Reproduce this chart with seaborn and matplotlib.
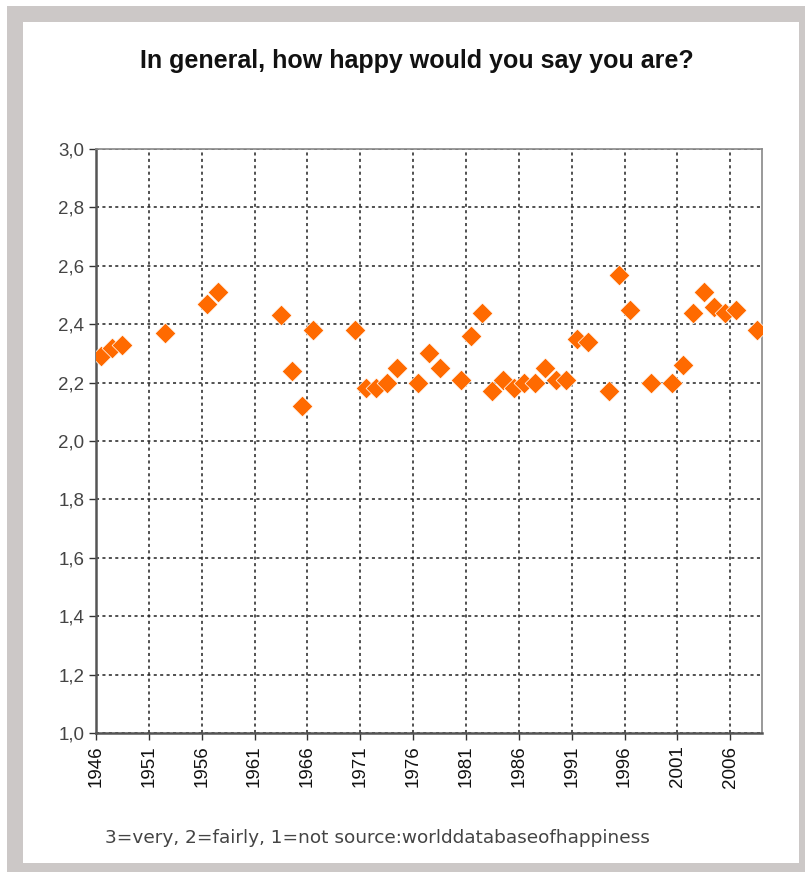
import matplotlib
matplotlib.use("Agg")
import matplotlib.pyplot as plt
from matplotlib.patches import Rectangle
from matplotlib.ticker import FuncFormatter
import seaborn as sns
import pandas as pd

# survey years and mean happiness (3=very, 2=fairly, 1=not)
years = [1946, 1947, 1948, 1952, 1956, 1957, 1963, 1964, 1965, 1966,
         1970, 1971, 1972, 1973, 1974, 1976, 1977, 1978, 1980, 1981,
         1982, 1983, 1984, 1985, 1986, 1987, 1988, 1989, 1990, 1991,
         1992, 1994, 1995, 1996, 1998, 2000, 2001, 2002, 2003, 2004,
         2005, 2006, 2008]
happiness = [2.29, 2.32, 2.33, 2.37, 2.47, 2.51, 2.43, 2.24, 2.12, 2.38,
             2.38, 2.18, 2.18, 2.20, 2.25, 2.20, 2.30, 2.25, 2.21, 2.36,
             2.44, 2.17, 2.21, 2.18, 2.20, 2.20, 2.25, 2.21, 2.21, 2.35,
             2.34, 2.17, 2.57, 2.45, 2.20, 2.20, 2.26, 2.44, 2.51, 2.46,
             2.44, 2.45, 2.38]
tick_years = [1946, 1951, 1956, 1961, 1966, 1971, 1976, 1981, 1986, 1991, 1996, 2001, 2006]
y_ticks = [1.0, 1.2, 1.4, 1.6, 1.8, 2.0, 2.2, 2.4, 2.6, 2.8, 3.0]

df = pd.DataFrame({"year": years, "happiness": happiness})

sns.set_style("white")
plt.rcParams['font.family'] = ['Liberation Sans', 'DejaVu Sans']

W, H = 805, 872
fig = plt.figure(figsize=(W / 100, H / 100), dpi=100)

# grey frame with white panel, like the original screenshot
fig.patches.append(Rectangle((7 / W, 0), 1, 1 - 6 / H, transform=fig.transFigure,
                             facecolor='#ccc8c7', edgecolor='none', zorder=-10))
fig.patches.append(Rectangle((23 / W, 9 / H), (799 - 23) / W, (863 - 22) / H,
                             transform=fig.transFigure, facecolor='white',
                             edgecolor='none', zorder=-9))

ax = fig.add_axes([96 / W, (H - 733) / H, (762 - 96) / W, (733 - 149) / H])
ax.set_facecolor('white')

sns.scatterplot(data=df, x='year', y='happiness', ax=ax, marker='D', s=112,
                color='#ff6a00', edgecolor='white', linewidth=0.5, zorder=3)

# category-style axis: boundaries sit half a year left of each label
ax.set_xlim(years[0] - 0.5, years[-1] + 0.5)
ax.set_xticks([t - 0.5 for t in tick_years])
ax.set_xticklabels([str(t) for t in tick_years], rotation=90, fontsize=13.5, color='#111')
ax.set_ylim(1.0, 3.0)
ax.set_yticks(y_ticks)
ax.yaxis.set_major_formatter(FuncFormatter(lambda v, p: f'{v:.1f}'.replace('.', ',')))
ax.tick_params(axis='y', labelsize=13.5, labelcolor='#444', length=5, width=1, color='#333', direction='out', left=True)
ax.tick_params(axis='x', length=5, width=1, color='#333', direction='out', bottom=True, pad=4)

ax.grid(True, color='#222', linestyle=(0, (2, 2.2)), linewidth=1.1)
ax.set_axisbelow(True)
ax.set_xlabel('')
ax.set_ylabel('')

for side in ['left', 'bottom']:
    ax.spines[side].set_color('#555')
    ax.spines[side].set_linewidth(1.8)
for side in ['top', 'right']:
    ax.spines[side].set_color('#888')
    ax.spines[side].set_linewidth(1.2)

fig.text(417 / W, 1 - 68 / H, 'In general, how happy would you say you are?',
         ha='center', va='baseline', fontsize=18, fontweight='bold', color='#111')
fig.text(105 / W, 1 - 843 / H, '3=very, 2=fairly, 1=not source:worlddatabaseofhappiness',
         ha='left', va='baseline', fontsize=13.3, color='#444',
         family=['DejaVu Sans'])

fig.savefig('out.png', dpi=100)
